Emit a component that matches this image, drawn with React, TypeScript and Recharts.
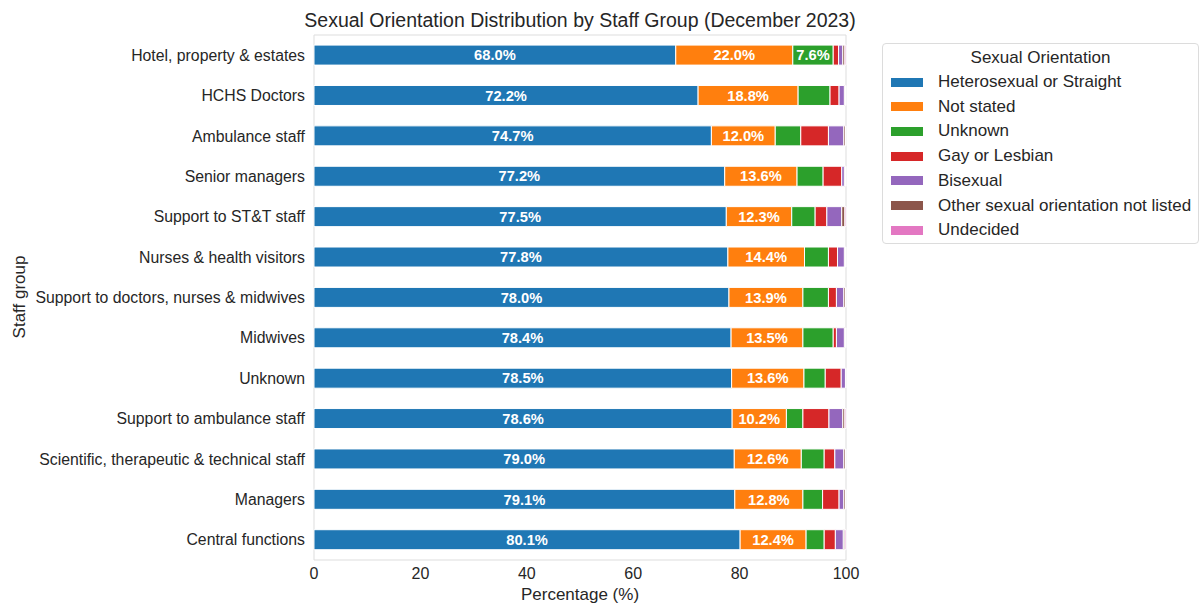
import { BarChart, Bar, XAxis, YAxis, LabelList, Label, ReferenceArea } from 'recharts'

const groups = [
  'Hotel, property & estates',
  'HCHS Doctors',
  'Ambulance staff',
  'Senior managers',
  'Support to ST&T staff',
  'Nurses & health visitors',
  'Support to doctors, nurses & midwives',
  'Midwives',
  'Unknown',
  'Support to ambulance staff',
  'Scientific, therapeutic & technical staff',
  'Managers',
  'Central functions',
]

const hetero = [68.0, 72.2, 74.7, 77.2, 77.5, 77.8, 78.0, 78.4, 78.5, 78.6, 79.0, 79.1, 80.1]
const notStated = [22.0, 18.8, 12.0, 13.6, 12.3, 14.4, 13.9, 13.5, 13.6, 10.2, 12.6, 12.8, 12.4]
const unknown = [7.6, 6.0, 4.8, 4.9, 4.4, 4.5, 4.8, 5.7, 4.0, 3.1, 4.3, 3.7, 3.4]
const gay = [1.0, 1.7, 5.2, 3.5, 2.2, 1.7, 1.5, 0.6, 3.0, 4.9, 2.0, 3.1, 2.1]
const bisexual = [0.8, 1.0, 2.9, 0.5, 2.8, 1.3, 1.4, 1.5, 0.8, 2.6, 1.7, 0.9, 1.5]
const otherNotListed = [0.4, 0.2, 0.3, 0.2, 0.6, 0.2, 0.3, 0.2, 0.1, 0.4, 0.3, 0.3, 0.3]
const undecided = [0.2, 0.1, 0.1, 0.1, 0.2, 0.1, 0.1, 0.1, 0.0, 0.2, 0.1, 0.1, 0.2]

const xTicks = [0, 20, 40, 60, 80, 100]

const SERIES = [
  { key: 'hetero', name: 'Heterosexual or Straight', color: '#1f77b4', values: hetero },
  { key: 'notStated', name: 'Not stated', color: '#ff7f0e', values: notStated },
  { key: 'unknown', name: 'Unknown', color: '#2ca02c', values: unknown },
  { key: 'gay', name: 'Gay or Lesbian', color: '#d62728', values: gay },
  { key: 'bisexual', name: 'Bisexual', color: '#9467bd', values: bisexual },
  { key: 'other', name: 'Other sexual orientation not listed', color: '#8c564b', values: otherNotListed },
  { key: 'undecided', name: 'Undecided', color: '#e377c2', values: undecided },
]

const data = groups.map((name, i) => {
  const row: Record<string, string | number> = { name }
  SERIES.forEach((s) => { row[s.key] = s.values[i] })
  return row
})

const FONT = '"Liberation Sans", Arial, sans-serif'

function LegendBox() {
  return (
    <div style={{
      position: 'absolute', left: 882, top: 43, width: 317, height: 201,
      border: '1px solid #dcdcdc', borderRadius: 4, fontFamily: FONT, color: '#262626',
      background: '#fff', boxSizing: 'border-box',
    }}>
      <div style={{ textAlign: 'center', fontSize: 17, marginTop: 3, lineHeight: '22px' }}>Sexual Orientation</div>
      {SERIES.map((s, i) => (
        <div key={s.key} style={{ position: 'absolute', left: 8, top: 27 + i * 24.7, display: 'flex', alignItems: 'center', height: 22 }}>
          <span style={{ display: 'inline-block', width: 32, height: 9, background: s.color, marginRight: 15 }} />
          <span style={{ fontSize: 17, whiteSpace: 'nowrap' }}>{s.name}</span>
        </div>
      ))}
    </div>
  )
}

export default function App() {
  return (
    <div style={{ position: 'absolute', left: 0, top: 0, width: 1200, height: 605, background: '#fff', fontFamily: FONT }}>
      <div style={{ position: 'absolute', left: 230, width: 700, top: 8, textAlign: 'center', fontSize: 19.5, color: '#262626', whiteSpace: 'nowrap', lineHeight: '24px' }}>
        Sexual Orientation Distribution by Staff Group (December 2023)
      </div>
      <BarChart
        width={1200}
        height={605}
        data={data}
        layout="vertical"
        barCategoryGap="25%"
        margin={{ top: 35, right: 354, bottom: 0, left: 0 }}
        style={{ fontFamily: FONT }}
      >
        <ReferenceArea x1={0} x2={100} fill="none" stroke="#dddddd" strokeWidth={1} ifOverflow="visible" />
        <XAxis
          type="number"
          domain={[0, 100]}
          ticks={xTicks}
          height={45}
          tickLine={false}
          axisLine={false}
          tickSize={6}
          tickMargin={2}
          tick={{ fill: '#262626', fontSize: 16 }}
        >
          <Label value="Percentage (%)" position="insideBottom" offset={5} style={{ fill: '#262626', fontSize: 17 }} />
        </XAxis>
        <YAxis
          type="category"
          dataKey="name"
          width={314}
          tickLine={false}
          axisLine={false}
          tickSize={6}
          tickMargin={3}
          interval={0}
          tick={{ fill: '#262626', fontSize: 15.8 }}
        >
          <Label
            content={() => (
              <text x={19} y={297} transform="rotate(-90 19 297)" textAnchor="middle" dominantBaseline="central" fill="#262626" fontSize={17}>
                Staff group
              </text>
            )}
          />
        </YAxis>
        {SERIES.map((s) => (
          <Bar key={s.key} dataKey={s.key} name={s.name} stackId="a" fill={s.color} stroke="#ffffff" strokeWidth={1} isAnimationActive={false}>
            <LabelList
              dataKey={s.key}
              position="center"
              formatter={(v: any) => (Number(v) >= 7 ? `${Number(v).toFixed(1)}%` : '')}
              style={{ fill: '#ffffff', fontWeight: 'bold', fontSize: 14.7 }}
            />
          </Bar>
        ))}
      </BarChart>
      <LegendBox />
    </div>
  )
}
